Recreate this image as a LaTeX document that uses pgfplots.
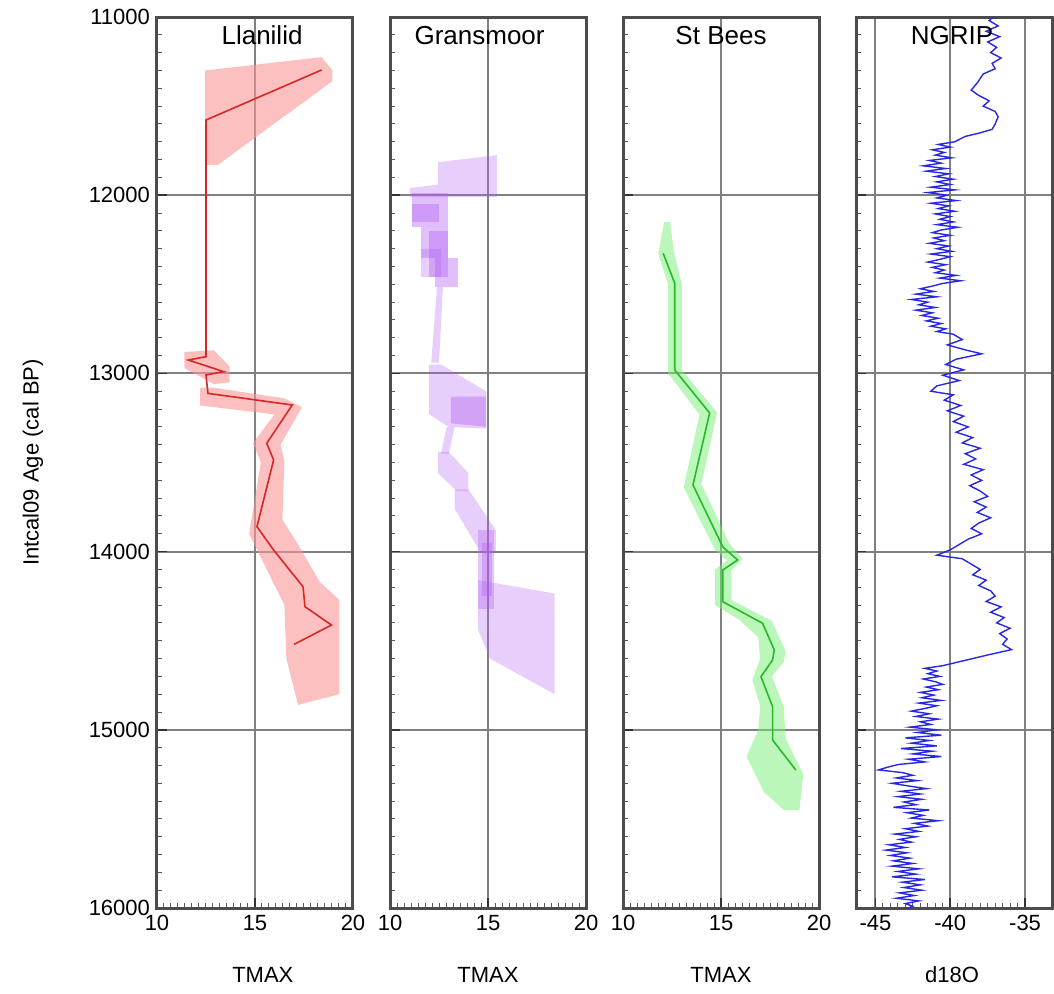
\documentclass[border=0pt]{standalone}
\usepackage{fontspec}
\setmainfont{Liberation Sans}
\usepackage{pgfplots}
\pgfplotsset{compat=1.18}

\definecolor{llred}{RGB}{215,40,40}
\definecolor{llband}{RGB}{250,150,150}
\definecolor{grpurp}{RGB}{178,95,242}
\definecolor{sbgreen}{RGB}{40,185,40}
\definecolor{sbband}{RGB}{120,240,120}
\definecolor{ngblue}{RGB}{40,40,225}

\pgfplotsset{
  panel/.style={
    scale only axis, width=98pt, height=445.5pt,
    anchor=south west,
    y dir=reverse, ymin=11000, ymax=16000,
    ytick={11000,12000,13000,14000,15000,16000},
    yticklabels={},
    minor y tick num=9,
    xtick pos=bottom, ytick pos=left,
    tick align=inside,
    major tick length=5pt, minor tick length=2.5pt,
    grid=major,
    major grid style={draw=black!50, line width=1pt},
    axis line style={draw=black!70, line width=1.5pt},
    tick style={black!80, line width=0.8pt},
    minor tick style={black!65, line width=0.5pt},
    ticklabel style={font=\fontsize{11}{13}\selectfont},
    /pgf/number format/assume math mode=true,
    /pgf/number format/1000 sep={},
    xlabel style={font=\fontsize{11}{13}\selectfont, at={(axis description cs:0.5,0)}, anchor=center, yshift=-33.5pt},
    title style={font=\fontsize{13}{15}\selectfont, anchor=center},
    no markers,
  },
  tmax/.style={xmin=10, xmax=20, xtick={10,15,20}, minor x tick num=13, xlabel={TMAX}},
}

\begin{document}
\begin{tikzpicture}
\useasboundingbox (-78.5pt,-42.5pt) rectangle (448.5pt,454pt);

% Llanilid
\begin{axis}[panel, tmax, at={(0pt,0pt)},
  yticklabels={11000,12000,13000,14000,15000,16000},
  ylabel={Intcal09 Age (cal BP)},
  ylabel style={at={(axis description cs:-0.633,0.5)}, anchor=center, font=\fontsize{11}{13}\selectfont},
  xlabel style={at={(axis description cs:0.54,0)}},
  title={Llanilid}, title style={at={(axis description cs:0.536,0.966)}}]
\addplot[fill=llband, draw=none, fill opacity=0.6] coordinates {
  (12.45,11300) (18.4,11225) (18.95,11300) (18.95,11360) (13.1,11830) (12.45,11830)};
\addplot[fill=llband, draw=none, fill opacity=0.6] coordinates {
  (11.4,12880) (12.9,12870) (13.7,12960) (13.7,13050) (12.9,13060) (11.4,12970)};
\addplot[fill=llband, draw=none, fill opacity=0.6] coordinates {
  (12.9,13080) (16.5,13140) (17.4,13190) (16.3,13400) (16.5,13490) (16.4,13820)
  (17.2,13960) (18.3,14170) (19.3,14270) (19.3,14800) (17.2,14860)
  (16.6,14600) (16.5,14300) (15.6,14100) (14.7,13900) (15.3,13500) (14.9,13390)
  (16.0,13230) (12.2,13180) (12.2,13080)};
\addplot[llred, line width=0.8pt] coordinates {
  (18.4,11297) (12.5,11578) (12.5,12906) (11.6,12925) (13.4,12990) (12.5,13009)
  (12.6,13112) (16.9,13177) (15.6,13392) (15.95,13486) (15.1,13860) (15.95,13991)
  (17.45,14197) (17.55,14309) (18.9,14412) (17.0,14520)};
\end{axis}

% Gransmoor
\begin{axis}[panel, tmax, at={(116.5pt,0pt)},
  title={Gransmoor}, title style={at={(axis description cs:0.457,0.966)}}]
\addplot[fill=grpurp, draw=none, fill opacity=0.3] coordinates {
  (12.45,11815) (15.45,11775) (15.45,12010) (12.45,12010)};
\addplot[fill=grpurp, draw=none, fill opacity=0.3] coordinates {
  (11.0,11960) (12.45,11940) (12.45,12010) (11.0,12010)};
\addplot[fill=grpurp, draw=none, fill opacity=0.4] coordinates {
  (11.1,11990) (12.96,11990) (12.96,12180) (11.1,12180)};
\addplot[fill=grpurp, draw=none, fill opacity=0.4] coordinates {
  (11.1,12050) (12.5,12050) (12.5,12150) (11.1,12150)};
\addplot[fill=grpurp, draw=none, fill opacity=0.4] coordinates {
  (11.6,12180) (12.96,12180) (12.96,12350) (11.6,12350)};
\addplot[fill=grpurp, draw=none, fill opacity=0.4] coordinates {
  (12.0,12200) (12.96,12200) (12.96,12460) (12.0,12460)};
\addplot[fill=grpurp, draw=none, fill opacity=0.4] coordinates {
  (12.3,12350) (13.47,12350) (13.47,12515) (12.3,12515)};
\addplot[fill=grpurp, draw=none, fill opacity=0.3] coordinates {
  (11.6,12300) (12.6,12300) (12.6,12460) (11.6,12460)};
\addplot[fill=grpurp, draw=none, fill opacity=0.3] coordinates {
  (12.4,12515) (12.7,12515) (12.5,12940) (12.1,12940)};
\addplot[fill=grpurp, draw=none, fill opacity=0.3] coordinates {
  (12.0,12950) (12.6,12950) (14.9,13100) (14.9,13310) (13.0,13300) (12.0,13230)};
\addplot[fill=grpurp, draw=none, fill opacity=0.4] coordinates {
  (13.1,13130) (14.9,13130) (14.9,13300) (13.1,13280)};
\addplot[fill=grpurp, draw=none, fill opacity=0.3] coordinates {
  (12.9,13300) (13.3,13300) (13.0,13450) (12.6,13450)};
\addplot[fill=grpurp, draw=none, fill opacity=0.3] coordinates {
  (12.45,13440) (13.0,13440) (14.0,13560) (14.0,13660) (13.4,13660) (12.45,13560)};
\addplot[fill=grpurp, draw=none, fill opacity=0.3] coordinates {
  (13.3,13650) (14.0,13650) (15.4,13880) (15.4,14000) (14.6,14000) (13.3,13760)};
\addplot[fill=grpurp, draw=none, fill opacity=0.35] coordinates {
  (14.5,13880) (15.3,13880) (15.3,14320) (14.5,14320)};
\addplot[fill=grpurp, draw=none, fill opacity=0.35] coordinates {
  (14.7,13950) (15.2,13950) (15.2,14250) (14.7,14250)};
\addplot[fill=grpurp, draw=none, fill opacity=0.3] coordinates {
  (14.5,14160) (18.4,14235) (18.4,14800) (15.1,14600) (14.5,14440)};
\end{axis}

% St Bees
\begin{axis}[panel, tmax, at={(233pt,0pt)},
  title={St Bees}, title style={at={(axis description cs:0.5,0.966)}}]
\addplot[fill=sbband, draw=none, fill opacity=0.5] coordinates {
  (12.4,12150) (12.6,12320) (13.0,12500) (13.0,12980) (14.8,13220) (14.0,13620)
  (15.4,13950) (16.1,14040) (15.5,14110) (15.5,14270) (17.6,14390) (18.3,14560)
  (18.2,14620) (17.6,14700) (18.2,14870) (18.3,15050) (19.2,15250) (19.0,15450)
  (18.2,15450) (17.2,15350) (16.3,15150) (16.9,15000) (17.0,14870) (16.6,14720)
  (17.0,14600) (16.9,14480) (15.9,14380) (14.7,14300) (14.7,14100) (15.3,14050)
  (14.7,13990) (13.1,13640) (13.9,13230) (12.3,13000) (12.3,12500) (11.8,12330)
  (12.1,12150)};
\addplot[sbgreen, line width=0.8pt] coordinates {
  (12.05,12326) (12.64,12495) (12.64,12981) (14.42,13222) (13.57,13626) (15.09,13973)
  (15.85,14047) (15.09,14103) (15.09,14281) (17.12,14402) (17.72,14552) (17.63,14608)
  (17.04,14702) (17.63,14870) (17.63,15057) (18.82,15226)};
\end{axis}

% NGRIP
\begin{axis}[panel, at={(349.5pt,0pt)},
  xmin=-46.3, xmax=-33.2, xtick={-45,-40,-35}, minor x tick num=9,
  xlabel={d18O}, xlabel style={at={(axis description cs:0.49,0)}},
  title={NGRIP}, title style={at={(axis description cs:0.49,0.966)}}]
\addplot[ngblue, line width=0.7pt] table {
x y
-37.0 10990
-37.4 11020
-36.8 11050
-37.6 11080
-36.7 11110
-37.5 11140
-36.9 11170
-37.3 11200
-36.6 11230
-37.2 11260
-37.0 11290
-37.8 11320
-38.2 11370
-38.6 11410
-38.1 11440
-37.4 11470
-37.8 11500
-37.0 11530
-36.8 11560
-37.0 11600
-37.2 11630
-38.0 11650
-39.0 11670
-39.7 11700
-40.8 11715
-40.0 11730
-41.2 11745
-40.4 11760
-41.0 11775
-39.9 11790
-41.4 11805
-40.6 11820
-41.8 11835
-40.3 11850
-41.6 11865
-40.1 11880
-41.0 11895
-39.8 11910
-40.9 11925
-40.0 11940
-41.3 11955
-39.7 11970
-41.5 11985
-40.2 12000
-40.9 12015
-39.6 12030
-41.3 12045
-40.1 12060
-40.8 12075
-39.7 12090
-41.0 12105
-40.0 12120
-40.7 12135
-39.8 12150
-40.9 12165
-39.5 12180
-40.6 12195
-41.2 12210
-40.0 12225
-41.1 12240
-40.4 12255
-41.4 12270
-40.1 12285
-40.9 12300
-39.9 12315
-41.3 12330
-40.0 12345
-40.7 12360
-41.5 12375
-40.3 12390
-41.2 12405
-40.4 12420
-41.0 12435
-39.6 12450
-40.7 12465
-39.3 12480
-40.5 12495
-41.2 12510
-42.0 12525
-41.1 12540
-42.3 12555
-40.9 12570
-42.6 12585
-41.5 12600
-42.1 12615
-41.0 12630
-42.3 12645
-41.2 12660
-41.9 12675
-40.8 12690
-41.6 12705
-40.6 12720
-41.3 12735
-40.3 12750
-40.9 12765
-39.8 12780
-39.2 12810
-40.2 12840
-38.9 12870
-37.9 12890
-39.6 12920
-40.3 12950
-39.1 12980
-40.5 13010
-39.4 13040
-40.9 13070
-41.3 13100
-39.8 13120
-40.4 13150
-39.3 13180
-40.2 13210
-39.1 13240
-39.8 13270
-38.8 13300
-39.6 13330
-38.5 13360
-39.2 13390
-38.0 13420
-39.0 13450
-38.3 13480
-39.1 13510
-37.8 13540
-38.6 13570
-37.9 13600
-38.7 13630
-38.0 13660
-37.5 13690
-38.4 13720
-37.6 13750
-38.2 13780
-37.3 13810
-38.1 13840
-38.6 13870
-37.9 13900
-38.8 13930
-39.4 13960
-40.0 13990
-40.9 14020
-39.2 14040
-38.6 14070
-38.0 14100
-38.5 14130
-37.6 14160
-38.1 14190
-37.3 14220
-37.0 14250
-37.6 14280
-36.6 14310
-37.3 14340
-36.4 14370
-36.9 14400
-36.0 14430
-36.7 14460
-36.2 14490
-36.5 14520
-35.9 14550
-37.5 14580
-39.0 14610
-40.5 14640
-41.7 14655
-40.9 14670
-41.5 14685
-40.7 14700
-41.8 14715
-41.0 14730
-40.5 14745
-41.6 14760
-40.8 14775
-42.0 14790
-41.1 14805
-41.9 14820
-40.6 14835
-42.1 14850
-40.9 14865
-41.7 14880
-42.6 14895
-41.4 14910
-42.3 14925
-40.8 14940
-42.0 14955
-41.3 14970
-42.7 14985
-40.9 15000
-42.2 15015
-40.6 15030
-43.0 15045
-41.4 15060
-42.6 15075
-40.9 15090
-43.3 15105
-41.2 15120
-42.5 15135
-40.6 15150
-42.8 15165
-41.7 15180
-43.5 15195
-44.2 15210
-44.8 15225
-43.2 15240
-42.5 15255
-43.6 15270
-42.2 15285
-43.9 15300
-42.8 15315
-41.6 15330
-43.3 15345
-42.0 15360
-43.5 15375
-41.9 15390
-43.1 15405
-42.3 15420
-43.8 15435
-41.4 15450
-42.9 15465
-41.8 15480
-42.6 15495
-40.8 15510
-42.4 15525
-41.5 15540
-43.0 15555
-42.1 15570
-43.7 15585
-42.3 15600
-43.4 15615
-42.6 15630
-44.1 15645
-43.0 15660
-44.3 15675
-42.9 15690
-44.0 15705
-42.7 15720
-43.8 15735
-42.5 15750
-43.9 15765
-42.1 15780
-43.5 15795
-42.3 15810
-43.9 15825
-41.7 15840
-43.2 15855
-42.0 15870
-43.1 15885
-41.9 15900
-43.4 15915
-42.4 15930
-43.6 15945
-42.1 15960
-43.0 15975
-42.5 15990
-42.8 16000
};
\end{axis}
\end{tikzpicture}
\end{document}
